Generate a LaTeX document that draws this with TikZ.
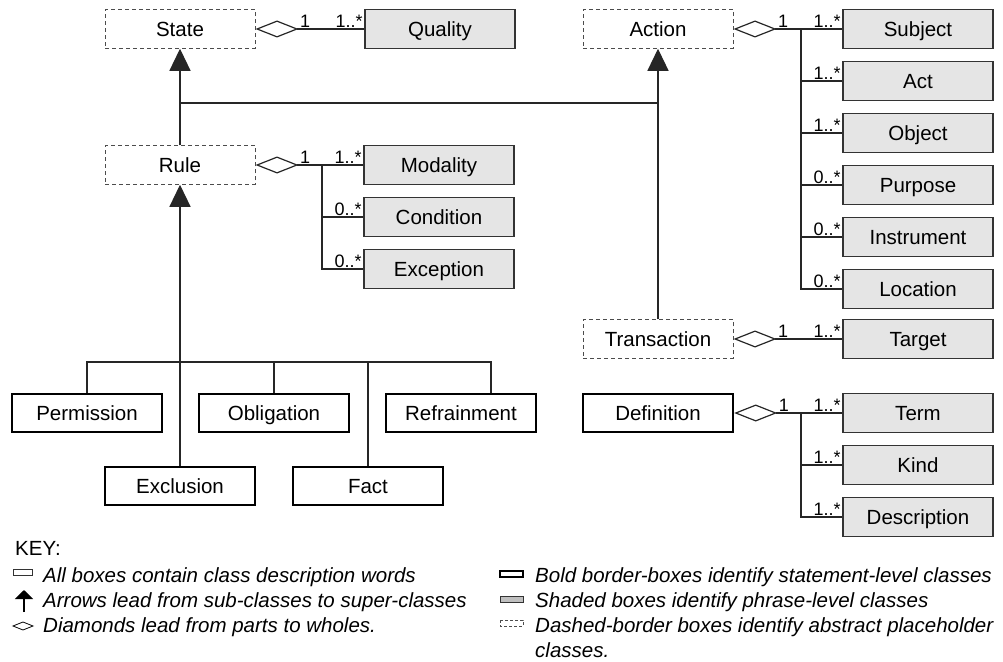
\documentclass[tikz,border=0pt]{standalone}
\usepackage{fontspec}
\setmainfont{Liberation Sans}
\usetikzlibrary{arrows.meta}

\begin{document}
\begin{tikzpicture}[x=1pt,y=-1pt,
        box/.style={minimum width=150pt,minimum height=38.5pt,inner sep=0pt,text height=14.7pt,text depth=0pt,font=\fontsize{20.5}{24}\selectfont},
        dashbox/.style={box,draw=black!70,dash pattern=on 4pt off 3pt,line width=1pt},
        phrasebox/.style={box,draw=black!80,fill=black!10,line width=1.4pt},
        boldbox/.style={box,draw=black,line width=2.4pt},
        mult/.style={font=\fontsize{18}{21}\selectfont,inner sep=1.5pt},
        keytext/.style={font=\fontsize{20.5}{24}\selectfont\itshape,anchor=base west,inner sep=0pt},
        part/.style={{Diamond[open,length=43pt,width=17pt]}-,draw=black!85,line width=1.2pt},
        isa/.style={-{Triangle[length=22pt,width=21pt]},draw=black!85,line width=1.2pt},
        link/.style={draw=black!85,line width=1.2pt}]
        \useasboundingbox(0,0)rectangle(1003,661);

        \node[dashbox](state)at(180,29){State};
        \node[phrasebox](quality)at(440,29){Quality};
        \node[dashbox](action)at(658,29){Action};
        \node[phrasebox](subject)at(918,29){Subject};
        \node[phrasebox](act)at(918,81){Act};
        \node[phrasebox](object)at(918,133){Object};
        \node[phrasebox](purpose)at(918,185){Purpose};
        \node[phrasebox](instrument)at(918,237){Instrument};
        \node[phrasebox](location)at(918,289){Location};
        \node[dashbox](rule)at(180,165){Rule};
        \node[phrasebox](modality)at(439,165){Modality};
        \node[phrasebox](condition)at(439,217){Condition};
        \node[phrasebox](exception)at(439,269){Exception};
        \node[dashbox](transaction)at(658,339){Transaction};
        \node[phrasebox](target)at(918,339){Target};
        \node[boldbox](definition)at(658,413){Definition};
        \node[phrasebox](term)at(918,413){Term};
        \node[phrasebox](kind)at(918,465){Kind};
        \node[phrasebox](description)at(918,517){Description};
        \node[boldbox](permission)at(87,413){Permission};
        \node[boldbox](obligation)at(274,413){Obligation};
        \node[boldbox](refrainment)at(461,413){Refrainment};
        \node[boldbox](exclusion)at(180,486){Exclusion};
        \node[boldbox](fact)at(368,486){Fact};

        \draw[isa](rule.north)--(state.south);
        \draw[isa](transaction.north)--(action.south);
        \coordinate(bar)at(0,103);
        \draw[link](rule.north|-bar)--(action.south|-bar);
        \draw[isa](exclusion.north)--(rule.south);
        \coordinate(bus)at(0,362);
        \coordinate(rj)at([xshift=30pt]refrainment.north);
        \draw[link](permission.north)--(permission.north|-bus)--(rj|-bus)--(rj);
        \draw[link](obligation.north)--(obligation.north|-bus);
        \draw[link](fact.north)--(fact.north|-bus);

        \draw[part](state.east)--(quality.west);
        \draw[part](rule.east)--(modality.west);
        \draw[part](action.east)--(subject.west);
        \draw[part](transaction.east)--(target.west);
        \draw[part](definition.east)--(term.west);
        \coordinate(rb)at(322,165);
        \draw[link](rb)|-(exception.west);
        \draw[link](rb|-condition.west)--(condition.west);
        \coordinate(ab)at(801,29);
        \draw[link](ab)|-(location.west);
        \foreach \n in {act,object,purpose,instrument}\draw[link](ab|-\n.west)--(\n.west);
        \coordinate(db)at(801,413);
        \draw[link](db)|-(description.west);
        \draw[link](db|-kind.west)--(kind.west);

        \foreach \w/\p in {state/quality,rule/modality,action/subject,transaction/target,definition/term}{
            \node[mult,above right](one-\w)at([xshift=43pt]\w.east){1};
            \node[mult,above left](many-\p)at(\p.west){1..*};}
        \foreach \p/\m in {act/1,object/1,purpose/0,instrument/0,location/0,condition/0,exception/0,kind/1,description/1}
            \node[mult,above left](many-\p)at(\p.west){\m..*};

        \node[font=\fontsize{20.5}{24}\selectfont,anchor=base west,inner sep=0pt](key)at(15,555){KEY:};
        \draw[draw=black!80,line width=0.8pt](13,569)rectangle(32,575);
        \node[keytext](k1)at(43,582){All boxes contain class description words};
        \draw[-{Triangle[length=9pt,width=18pt]},line width=1.2pt](24,612)--(24,590);
        \node[keytext](k2)at(43,607){Arrows lead from sub-classes to super-classes};
        \draw[line width=0.8pt](13,626)--(23,622)--(33,626)--(23,630)--cycle;
        \node[keytext](k3)at(43,632){Diamonds lead from parts to wholes.};
        \draw[line width=2pt](500,571)rectangle(523,577);
        \node[keytext](k4)at(535,582){Bold border-boxes identify statement-level classes};
        \draw[fill=black!25,draw=black!80,line width=0.8pt](500,596)rectangle(523,602);
        \node[keytext](k5)at(535,607){Shaded boxes identify phrase-level classes};
        \draw[draw=black!70,dash pattern=on 3pt off 2pt,line width=0.9pt](500,620)rectangle(523,626);
        \node[keytext](k6)at(535,632){Dashed-border boxes identify abstract placeholder};
        \node[keytext](k7)at(535,657){classes.};
    \end{tikzpicture}
\end{document}
